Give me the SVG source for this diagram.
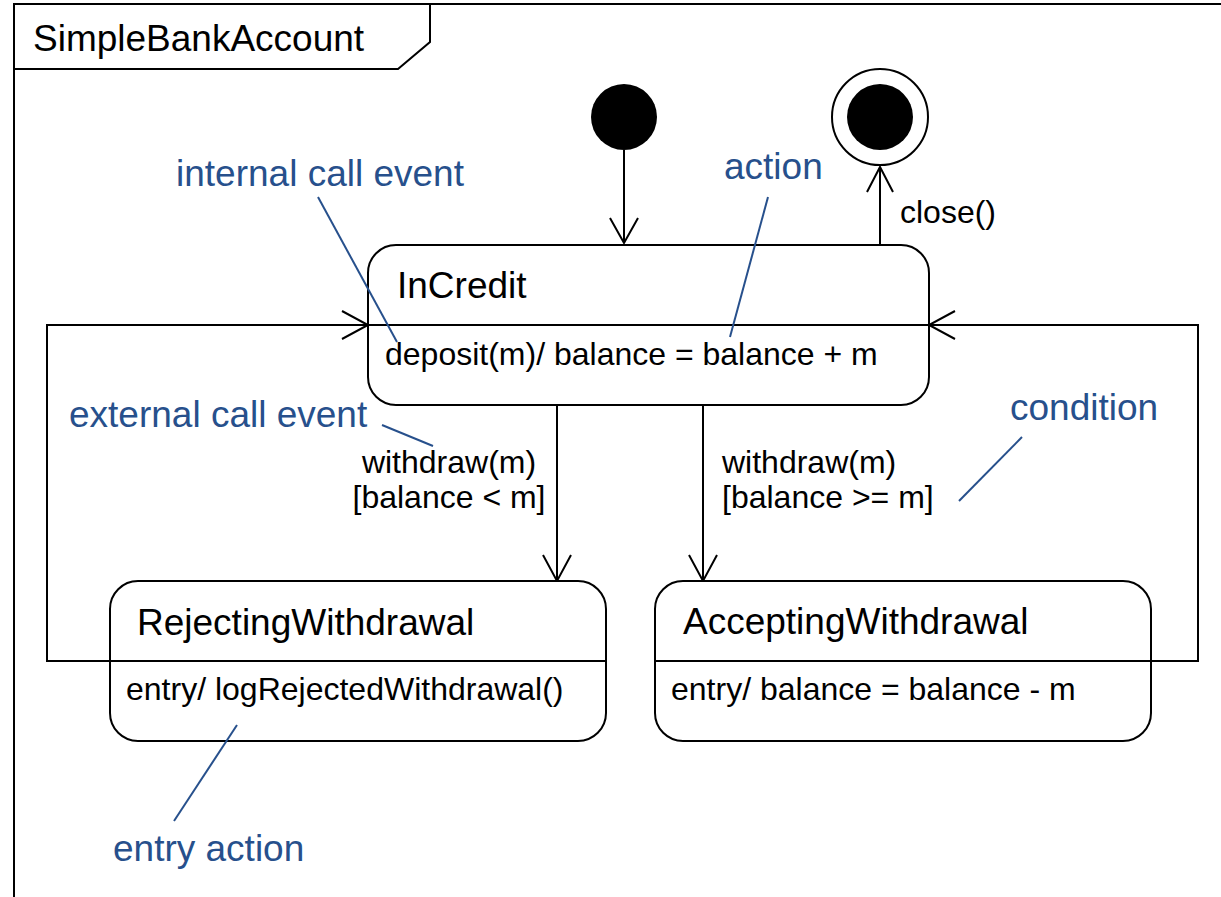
<svg xmlns="http://www.w3.org/2000/svg" width="1221" height="897" viewBox="0 0 1221 897">
<style>
.ln{fill:none;stroke:#000;stroke-width:2}
.st{fill:#fff;stroke:#000;stroke-width:2}
.an{fill:none;stroke:#27508c;stroke-width:2}
.t{font-family:"Liberation Sans",Arial,sans-serif;fill:#000}
.big{font-size:37px}
.sm{font-size:32px}
.blue{font-family:"Liberation Sans",Arial,sans-serif;font-size:37px;fill:#27508c}
</style>
<rect width="1221" height="897" fill="#fff"/>
<g id="frame">
<path class="ln" d="M14,897 V4 H1221"/>
<path class="ln" d="M14,69 H398 L430,42 V4"/>
<text class="t big" x="33" y="51">SimpleBankAccount</text>
</g>
<g id="connectors">
<path class="ln" d="M624,150 V243"/>
<path class="ln" d="M610,218 L624,243 L638,218"/>
<path class="ln" d="M880,245 V167"/>
<path class="ln" d="M867,192 L880,167 L893,192"/>
<text class="t sm" x="900" y="223">close()</text>
<path class="ln" d="M110,661 H47 V325 H368"/>
<path class="ln" d="M342,311 L368,325 L342,339"/>
<path class="ln" d="M1151,661 H1198 V325 H929"/>
<path class="ln" d="M955,311 L929,325 L955,339"/>
<path class="ln" d="M557,405 V581"/>
<path class="ln" d="M543,555 L557,581 L571,555"/>
<text class="t sm" x="449" y="473" text-anchor="middle">withdraw(m)</text>
<text class="t sm" x="449" y="508" text-anchor="middle">[balance &lt; m]</text>
<path class="ln" d="M703,405 V581"/>
<path class="ln" d="M689,555 L703,581 L717,555"/>
<text class="t sm" x="722" y="473">withdraw(m)</text>
<text class="t sm" x="722" y="508">[balance &gt;= m]</text>
</g>
<g id="initial">
<circle cx="624" cy="117" r="33" fill="#000"/>
</g>
<g id="final">
<circle cx="880" cy="117" r="48" class="st"/>
<circle cx="880" cy="117" r="33" fill="#000"/>
</g>
<g id="InCredit">
<rect class="st" x="368" y="245" width="561" height="160" rx="28"/>
<path class="ln" d="M368,325 H929"/>
<text class="t big" x="397" y="298">InCredit</text>
<text class="t sm" x="385" y="365">deposit(m)/ balance = balance + m</text>
</g>
<g id="RejectingWithdrawal">
<rect class="st" x="110" y="581" width="496" height="160" rx="28"/>
<path class="ln" d="M110,661 H606"/>
<text class="t big" x="137" y="635">RejectingWithdrawal</text>
<text class="t sm" x="126" y="700">entry/ logRejectedWithdrawal()</text>
</g>
<g id="AcceptingWithdrawal">
<rect class="st" x="655" y="581" width="496" height="160" rx="28"/>
<path class="ln" d="M655,661 H1151"/>
<text class="t big" x="683" y="634">AcceptingWithdrawal</text>
<text class="t sm" x="671" y="700">entry/ balance = balance - m</text>
</g>
<g id="annotations">
<text class="blue" x="176" y="186">internal call event</text>
<path class="an" d="M318,197 L397,342"/>
<text class="blue" x="724" y="179">action</text>
<path class="an" d="M768,197 L730,337"/>
<text class="blue" x="69" y="427">external call event</text>
<path class="an" d="M382,425 L433,446"/>
<text class="blue" x="1010" y="420">condition</text>
<path class="an" d="M1022,437 L959,501"/>
<text class="blue" x="113" y="861">entry action</text>
<path class="an" d="M237,725 L174,821"/>
</g>
</svg>
